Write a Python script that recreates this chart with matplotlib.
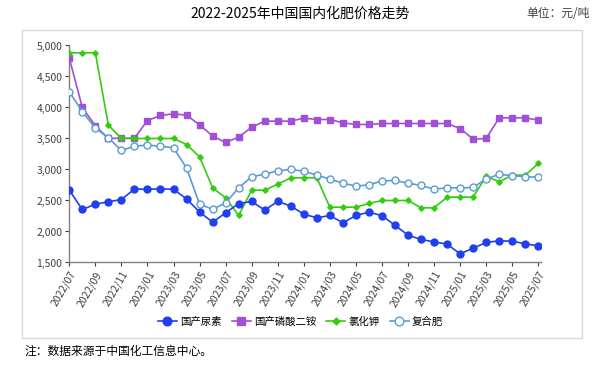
import matplotlib
matplotlib.use("Agg")
import matplotlib.pyplot as plt
from matplotlib.patches import Rectangle
from matplotlib.ticker import FuncFormatter

plt.rcParams['font.family'] = ['Noto Sans CJK SC', 'DejaVu Sans']

months = ['2022/07', '2022/08', '2022/09', '2022/10', '2022/11', '2022/12',
          '2023/01', '2023/02', '2023/03', '2023/04', '2023/05', '2023/06',
          '2023/07', '2023/08', '2023/09', '2023/10', '2023/11', '2023/12',
          '2024/01', '2024/02', '2024/03', '2024/04', '2024/05', '2024/06',
          '2024/07', '2024/08', '2024/09', '2024/10', '2024/11', '2024/12',
          '2025/01', '2025/02', '2025/03', '2025/04', '2025/05', '2025/06',
          '2025/07']

urea = [2667, 2355, 2440, 2480, 2515, 2685, 2680, 2688, 2680, 2525, 2315, 2150,
        2300, 2450, 2485, 2345, 2485, 2410, 2280, 2220, 2258, 2140, 2258, 2312,
        2255, 2100, 1941, 1871, 1833, 1796, 1640, 1731, 1823, 1850, 1844, 1801,
        1769]
dap = [4796, 4000, 3704, 3500, 3505, 3505, 3790, 3871, 3898, 3876, 3720, 3540,
       3436, 3522, 3683, 3780, 3780, 3780, 3828, 3806, 3806, 3753, 3726, 3726,
       3742, 3742, 3742, 3742, 3742, 3742, 3661, 3489, 3500, 3833, 3833, 3833,
       3796]
kcl = [4882, 4882, 4882, 3715, 3500, 3500, 3500, 3500, 3500, 3403, 3204, 2704,
       2543, 2258, 2667, 2667, 2764, 2866, 2866, 2866, 2392, 2392, 2392, 2452,
       2500, 2500, 2500, 2382, 2382, 2554, 2554, 2554, 2893, 2801, 2909, 2909,
       3097]
compound = [4253, 3935, 3667, 3511, 3307, 3376, 3393, 3376, 3350, 3022, 2441, 2358,
            2462, 2704, 2882, 2925, 2978, 3000, 2973, 2909, 2844, 2780, 2731, 2753,
            2815, 2823, 2780, 2742, 2683, 2704, 2704, 2710, 2850, 2920, 2903, 2882,
            2876]

x = list(range(len(months)))

fig = plt.figure(figsize=(6.01, 3.68), dpi=100)
fig.patches.append(Rectangle((0.0366, 0.0815), 0.932, 0.837, transform=fig.transFigure,
                             fill=False, edgecolor='#d9d9d9', linewidth=1.0))

ax = fig.add_axes([0.1153, 0.2867, 0.7847, 0.5897])
ax.plot(x, urea, color='#1f3ff0', marker='o', markersize=5, linewidth=1.2, label='国产尿素', zorder=4)
ax.plot(x, dap, color='#a04fd6', marker='s', markersize=4.5, linewidth=1.2, label='国产磷酸二铵', zorder=3)
ax.plot(x, kcl, color='#33cc11', marker='D', markersize=2.8, linewidth=1.2, label='氯化钾', zorder=3)
ax.plot(x, compound, color='#5b9bd5', marker='o', markersize=5, markerfacecolor='white',
        markeredgewidth=1.0, linewidth=1.2, label='复合肥', zorder=3)

ax.set_xlim(0, 36.2)
ax.set_ylim(1500, 5000)
ax.set_yticks(range(1500, 5001, 500))
ax.yaxis.set_major_formatter(FuncFormatter(lambda v, p: f'{int(v):,}'))
ax.set_xticks(x[::2])
ax.set_xticklabels(months[::2], rotation=60, ha='right', rotation_mode='anchor')
ax.tick_params(axis='both', labelsize=7.5, colors='#404040', length=3, width=0.8, pad=2)
for s in ['top', 'right']:
    ax.spines[s].set_visible(False)
for s in ['left', 'bottom']:
    ax.spines[s].set_color('#808080')
    ax.spines[s].set_linewidth(1.0)

fig.legend(loc='center', bbox_to_anchor=(0.5, 0.125), ncol=4, frameon=False,
           fontsize=7.5, handlelength=1.8, handletextpad=0.3, columnspacing=1.0,
           markerscale=1.25)

fig.text(0.5, 0.962, '2022-2025年中国国内化肥价格走势', ha='center', va='center', fontsize=10)
fig.text(0.982, 0.962, '单位：元/吨', ha='right', va='center', fontsize=8.5, color='#404040')
fig.text(0.04, 0.046, '注：数据来源于中国化工信息中心。', ha='left', va='center', fontsize=8.5)

fig.savefig('out.png', dpi=100)
